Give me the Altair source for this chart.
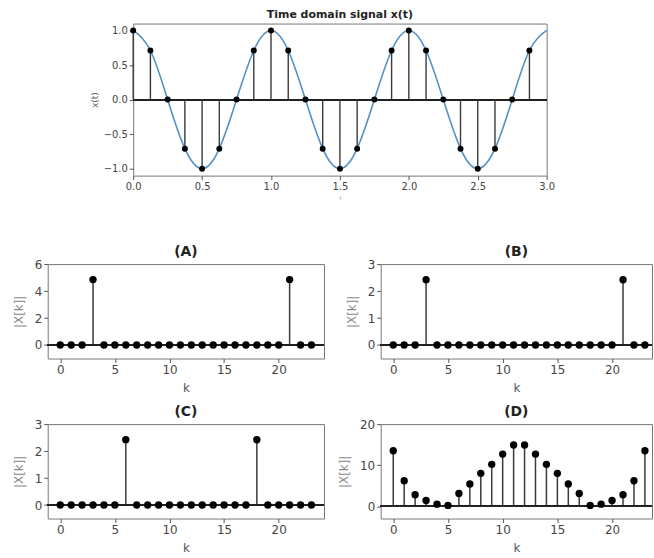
import altair as alt
import pandas as pd

# Sampled cosine: 8 samples per period over three periods
t_samples = [0.0, 0.125, 0.25, 0.375, 0.5, 0.625, 0.75, 0.875,
             1.0, 1.125, 1.25, 1.375, 1.5, 1.625, 1.75, 1.875,
             2.0, 2.125, 2.25, 2.375, 2.5, 2.625, 2.75, 2.875]
x_samples = [1.0, 0.71, 0.0, -0.71, -1.0, -0.71, 0.0, 0.71,
             1.0, 0.71, 0.0, -0.71, -1.0, -0.71, 0.0, 0.71,
             1.0, 0.71, 0.0, -0.71, -1.0, -0.71, 0.0, 0.71]
# continuous curve runs one step further, to t = 3.0
t_curve = t_samples + [3.0]
x_curve = x_samples + [1.0]

k_vals = list(range(24))
mag_a = [0, 0, 0, 4.85, 0, 0, 0, 0, 0, 0, 0, 0, 0, 0, 0, 0, 0, 0, 0, 0, 0, 4.85, 0, 0]
mag_b = [0, 0, 0, 2.42, 0, 0, 0, 0, 0, 0, 0, 0, 0, 0, 0, 0, 0, 0, 0, 0, 0, 2.42, 0, 0]
mag_c = [0, 0, 0, 0, 0, 0, 2.42, 0, 0, 0, 0, 0, 0, 0, 0, 0, 0, 0, 2.42, 0, 0, 0, 0, 0]
mag_d = [13.5, 6.2, 2.8, 1.4, 0.5, 0.2, 3.1, 5.4, 8.0, 10.2, 12.7, 14.9,
         14.9, 12.7, 10.2, 8.0, 5.4, 3.1, 0.2, 0.5, 1.4, 2.8, 6.2, 13.5]

FONT = "DejaVu Sans"
CURVE = "#5390c6"
STEM = "#3a3a3a"

# ---- time-domain panel ----
samples = pd.DataFrame({"t": t_samples, "x": x_samples})
curve = pd.DataFrame({"t": t_curve, "x": x_curve})

tx = alt.X("t:Q", scale=alt.Scale(domain=[0, 3], nice=False, zero=False),
           axis=alt.Axis(values=[0, 0.5, 1, 1.5, 2, 2.5, 3], format=".1f",
                         tickCount=10, title="t", titleFontSize=5, titleColor="#999",
                         labelFontSize=10, tickSize=4, titlePadding=4))
ty = alt.Y("x:Q", scale=alt.Scale(domain=[-1.1, 1.1], nice=False, zero=False),
           axis=alt.Axis(values=[-1, -0.5, 0, 0.5, 1], format=".1f", tickCount=10,
                         title="x(t)", titleFontSize=9, titleColor="#666",
                         labelFontSize=10, tickSize=4, titlePadding=4))

line = alt.Chart(curve).mark_line(color=CURVE, strokeWidth=1.6,
                                  interpolate="natural").encode(x=tx, y=ty)
base0 = alt.Chart(samples).mark_rule(color="#222", strokeWidth=1.4).encode(y=alt.datum(0))
stems = alt.Chart(samples).mark_rule(color=STEM, strokeWidth=1.4).encode(
    x=tx, y=ty, y2=alt.datum(0))
dots = alt.Chart(samples).mark_circle(color="black", opacity=1, size=36).encode(x=tx, y=ty)

top = alt.layer(line, base0, stems, dots).properties(
    width=416, height=153,
    title=alt.TitleParams("Time domain signal x(t)", fontSize=11, offset=4))

# blank view that pushes the time-domain panel to the right
spacer = alt.Chart(pd.DataFrame({"v": [0]})).mark_point(opacity=0).encode(
    x=alt.X("v:Q", axis=None), y=alt.Y("v:Q", axis=None)
).properties(width=86, height=153, view=alt.ViewBackground(stroke="transparent"))

top_row = alt.hconcat(spacer, top, spacing=0, bounds="flush")


# ---- spectrum panels ----
def stem_panel(mags, label, ydom, yticks, width, xmax):
    df = pd.DataFrame({"k": k_vals, "m": mags})
    kx = alt.X("k:Q", scale=alt.Scale(domain=[-1.15, xmax], nice=False, zero=False),
               axis=alt.Axis(values=[0, 5, 10, 15, 20], format="d", tickCount=10,
                             title="k", titleFontSize=12, titleFontWeight="normal",
                             titleColor="#555", labelFontSize=12, tickSize=4,
                             titlePadding=7))
    my = alt.Y("m:Q", scale=alt.Scale(domain=ydom, nice=False, zero=False),
               axis=alt.Axis(values=yticks, format="d", tickCount=10, title="|X[k]|",
                             titleFontSize=12, titleColor="#888", labelFontSize=12,
                             tickSize=4, titlePadding=9))
    s = alt.Chart(df).mark_rule(color=STEM, strokeWidth=1.5).encode(
        x=kx, y=my, y2=alt.datum(0))
    b = alt.Chart(df).mark_rule(color="#222", strokeWidth=1.5).encode(y=alt.datum(0))
    d = alt.Chart(df).mark_circle(color="black", opacity=1, size=55).encode(x=kx, y=my)
    return alt.layer(s, b, d).properties(
        width=width, height=95,
        title=alt.TitleParams(label, fontSize=14, offset=-1))


pa = stem_panel(mag_a, "(A)", [-1, 6], [0, 2, 4, 6], 278, 24.15)
pb = stem_panel(mag_b, "(B)", [-0.5, 3], [0, 1, 2, 3], 273, 23.65)
pc = stem_panel(mag_c, "(C)", [-0.5, 3], [0, 1, 2, 3], 278, 24.15)
pd_ = stem_panel(mag_d, "(D)", [-3, 20], [0, 10, 20], 273, 23.65)

row1 = alt.hconcat(pa, pb, spacing=57, bounds="flush")
row2 = alt.hconcat(pc, pd_, spacing=57, bounds="flush")

# with flush bounds nested rows count as zero height, so the spacing
# values below are measured from one row's top edge to the next
spectra = alt.vconcat(row1, row2, spacing=161, bounds="flush")

chart = alt.vconcat(top_row, spectra, spacing=242, bounds="flush").properties(
    padding={"left": 11, "top": 6, "right": 0, "bottom": 0}
).configure_view(
    stroke="#777", strokeWidth=1
).configure_axis(
    grid=False, domain=False, labelColor="#444", tickColor="#555",
    labelFont=FONT, titleFont=FONT, titleFontWeight="normal",
    labelOverlap=False, labelFlush=False
).configure_title(
    font=FONT, fontWeight="bold", color="#222", anchor="middle"
)

chart.save("out.html", embed_options={"renderer": "svg", "actions": False})
